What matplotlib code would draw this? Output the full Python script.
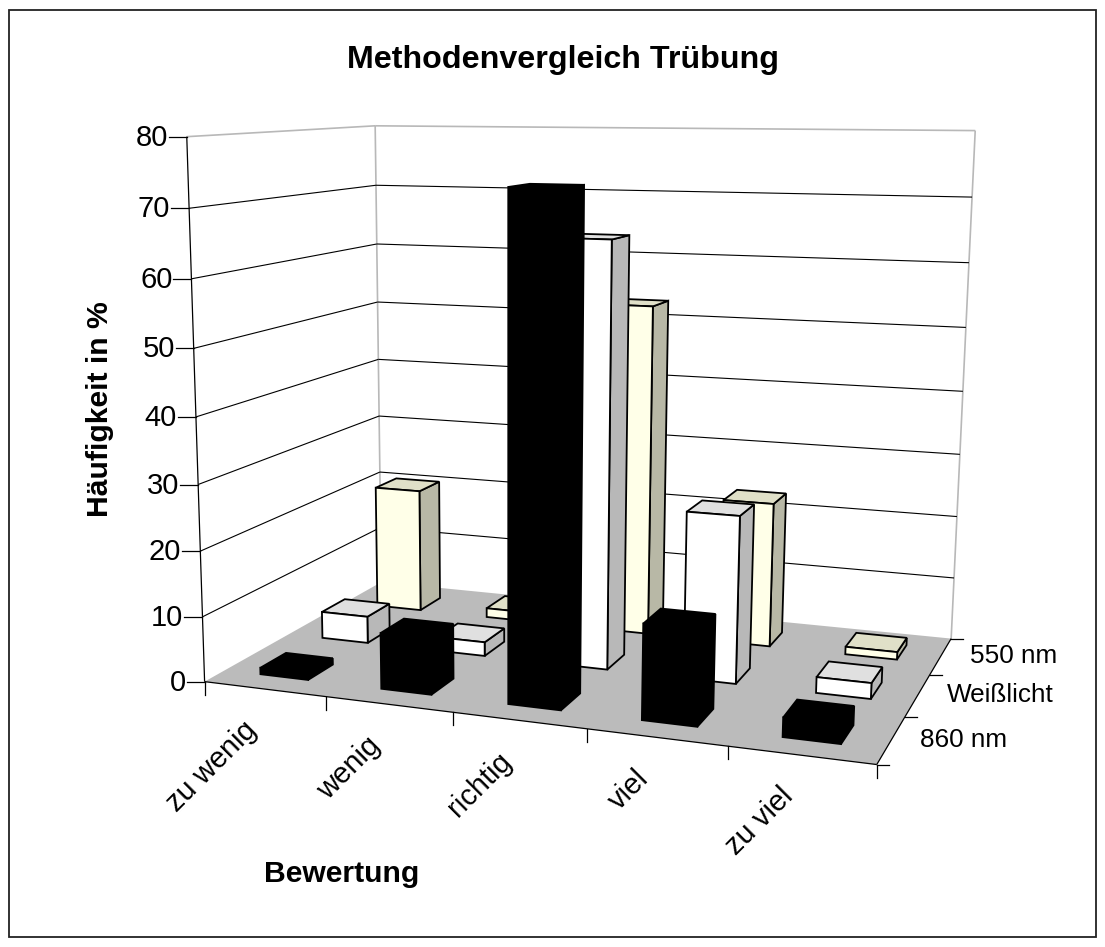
import numpy as np
import matplotlib
matplotlib.use("Agg")
import matplotlib.pyplot as plt
from matplotlib.patches import Rectangle

plt.rcParams['font.family'] = ['Liberation Sans', 'DejaVu Sans']

categories = ["zu wenig", "wenig", "richtig", "viel", "zu viel"]
series_names = ["860 nm", "Weißlicht", "550 nm"]
values_860 = [1, 8.5, 73.5, 14, 2.8]
values_white = [4.3, 2.2, 65, 25.5, 2.4]
values_550 = [20.5, 1.5, 53, 23, 1.2]
y_ticks = [0, 10, 20, 30, 40, 50, 60, 70, 80]

# (front, top, side) colours per series
colors = [("black", "black", "black"),
          ("#ffffff", "#e0e0e0", "#b8b8b8"),
          ("#ffffe8", "#e0e0c8", "#b8b8a6")]

# camera fit: chart corners (category, depth, value) -> pixel
world = np.array([(0, 0, 0), (0, 3, 0), (5, 3, 0), (5, 0, 0), (0, 0, 80), (0, 3, 80), (5, 3, 80)], float)
pixel = np.array([(206, 681), (380, 583), (952, 637), (876, 766), (186, 136), (376, 126), (975, 131)], float)
rows = []
rhs = []
for (a, b, c), (u, v) in zip(world, pixel):
    rows.append([a, b, c, 1, 0, 0, 0, 0, -u * a, -u * b, -u * c])
    rows.append([0, 0, 0, 0, a, b, c, 1, -v * a, -v * b, -v * c])
    rhs += [u, v]
cam = np.linalg.lstsq(np.array(rows), np.array(rhs), rcond=None)[0]
cam = np.append(cam, 1).reshape(3, 4)


def proj(x, y, z):
    p = cam @ np.array([x, y, z, 1.0])
    return p[0] / p[2], p[1] / p[2]


def face(ax, corners, fc, ec, z, lw=1.0):
    pts = [proj(*c) for c in corners]
    ax.fill([p[0] for p in pts], [p[1] for p in pts], facecolor=fc, edgecolor=ec,
            linewidth=lw, zorder=z, joinstyle='miter')


def line(ax, a, b, color='black', lw=0.8, z=2):
    pa, pb = proj(*a), proj(*b)
    ax.plot([pa[0], pb[0]], [pa[1], pb[1]], color=color, lw=lw, zorder=z, solid_capstyle='butt')


fig = plt.figure(figsize=(11.05, 9.47), dpi=100)
ax = fig.add_axes([0, 0, 1, 1])
ax.set_xlim(0, 1105)
ax.set_ylim(947, 0)
ax.axis('off')
ax.add_patch(Rectangle((9, 10), 1087, 927, facecolor='white', edgecolor='#222222', lw=1.3, zorder=0))

# walls and floor
face(ax, [(0, 0, 0), (0, 3, 0), (5, 3, 0), (5, 0, 0)], '#bbbbbb', 'none', 1)
line(ax, (0, 0, 80), (0, 3, 80), '#b8b8b8', 1.2)
line(ax, (0, 3, 80), (5, 3, 80), '#b8b8b8', 1.2)
line(ax, (0, 3, 0), (0, 3, 80), '#b8b8b8', 1.2)
line(ax, (5, 3, 0), (5, 3, 80), '#b8b8b8', 1.2)
for t in y_ticks[1:-1]:
    line(ax, (0, 0, t), (0, 3, t))
    line(ax, (0, 3, t), (5, 3, t))

# axis lines and ticks
line(ax, (0, 0, 0), (0, 0, 80), 'black', 0.9, 3)
line(ax, (0, 0, 0), (5, 0, 0), 'black', 0.9, 3)
line(ax, (5, 0, 0), (5, 3, 0), 'black', 0.9, 3)
for t in y_ticks:
    px, py = proj(0, 0, t)
    ax.plot([px - 18, px], [py, py], color='black', lw=0.9, zorder=3)
    ax.text(px - 19, py + 1, str(t), ha='right', va='center', fontsize=21)
for i in range(6):
    px, py = proj(i, 0, 0)
    ax.plot([px, px], [py, py + 13], color='black', lw=0.9, zorder=3)
for j in range(4):
    px, py = proj(5, j, 0)
    ax.plot([px, px + 12], [py, py], color='black', lw=0.9, zorder=3)

# bars, back to front and left to right
bar_w = 0.2
bar_d = 0.2
z = 10
all_values = [values_860, values_white, values_550]
for j in [2, 1, 0]:
    front, top, side = colors[j]
    for i, val in enumerate(all_values[j]):
        x0, x1 = i + 0.5 - bar_w, i + 0.5 + bar_w
        y0, y1 = j + 0.5 - bar_d, j + 0.5 + bar_d
        face(ax, [(x1, y0, 0), (x1, y1, 0), (x1, y1, val), (x1, y0, val)], side, 'black', z, 1.3)
        face(ax, [(x0, y0, val), (x1, y0, val), (x1, y1, val), (x0, y1, val)], top, 'black', z + 1, 1.3)
        face(ax, [(x0, y0, 0), (x1, y0, 0), (x1, y0, val), (x0, y0, val)], front, 'black', z + 2, 1.3)
        z += 3

# text
for i, name in enumerate(categories):
    px, py = proj(i + 0.5, 0, 0)
    ax.text(px - 22, py + 27, name, rotation=45, rotation_mode='anchor', ha='right', va='top', fontsize=21)
for j, name in enumerate(series_names):
    px, py = proj(5, j + 0.5, 0)
    ax.text(px + 29, py, name, ha='left', va='center', fontsize=18.8)

ax.text(563, 60, "Methodenvergleich Trübung", ha='center', va='center', fontsize=23.2, fontweight='bold')
ax.text(100, 409, "Häufigkeit in %", rotation=90, ha='center', va='center', fontsize=21.7, fontweight='bold')
ax.text(342, 874, "Bewertung", ha='center', va='center', fontsize=21.7, fontweight='bold')

fig.savefig("out.png", dpi=100)
